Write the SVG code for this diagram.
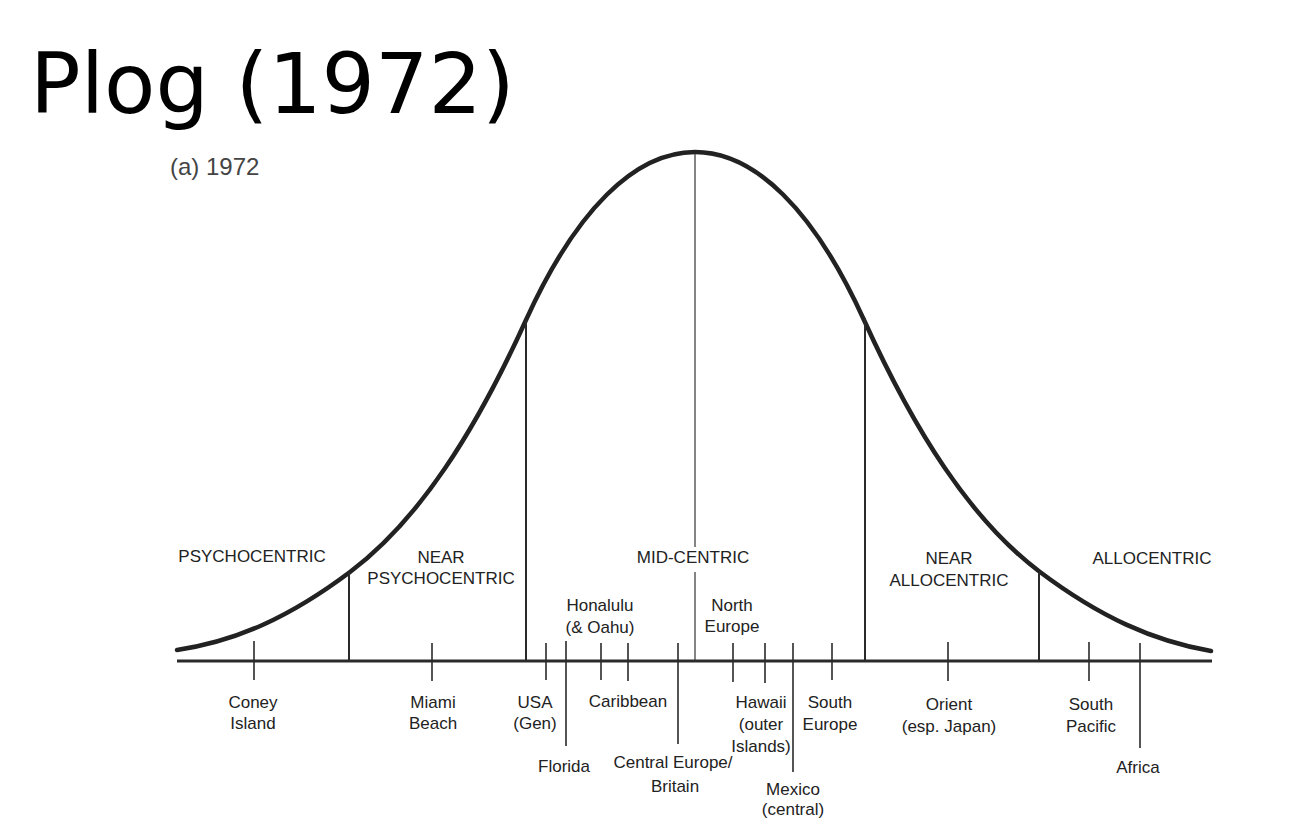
<svg xmlns="http://www.w3.org/2000/svg" width="1292" height="826" viewBox="0 0 1292 826">
<style>
.title{font-family:"DejaVu Sans",sans-serif;font-size:84px;fill:#000}
.sub{font-family:"Liberation Sans",Arial,sans-serif;font-size:24px;fill:#444}
.lbl{font-family:"Liberation Sans",Arial,sans-serif;font-size:17px;fill:#222;text-anchor:middle}
.curve{fill:none;stroke:#222;stroke-width:4.5;stroke-linecap:round}
.div{stroke:#2a2a2a;stroke-width:2;fill:none}
.thin{stroke:#333;stroke-width:1.2;fill:none}
.tick{stroke:#2a2a2a;stroke-width:1.6;fill:none}
.axis{stroke:#2a2a2a;stroke-width:3;fill:none}
</style>
<rect width="1292" height="826" fill="#fff"/>
<text class="title" x="30" y="113">Plog (1972)</text>
<text class="sub" x="170" y="175">(a) 1972</text>

<g id="curve">
<path class="curve" d="M177,650 C237,641 290,617 350,572 C420,519.5 476,430 526,320 C576,210 635,152 695,152 C755,152 814,210 864,320 C914,430 970,519.5 1040,572 C1100,617 1153,641 1211,651"/>
</g>

<g id="connectors">
<line class="axis" x1="177" y1="661" x2="1212" y2="661"/>
<line class="div" x1="349" y1="572" x2="349" y2="661"/>
<line class="div" x1="526" y1="320" x2="526" y2="661"/>
<line class="div" x1="865" y1="318" x2="865" y2="661"/>
<line class="div" x1="1039" y1="572" x2="1039" y2="661"/>
<line class="thin" x1="695" y1="154" x2="695" y2="547"/>
<line class="thin" x1="695" y1="572" x2="695" y2="661"/>
<line class="tick" x1="254" y1="641" x2="254" y2="680"/>
<line class="tick" x1="432" y1="643" x2="432" y2="681"/>
<line class="tick" x1="546" y1="643" x2="546" y2="680"/>
<line class="tick" x1="566" y1="641" x2="566" y2="746"/>
<line class="tick" x1="601" y1="643" x2="601" y2="680"/>
<line class="tick" x1="628" y1="643" x2="628" y2="681"/>
<line class="tick" x1="678" y1="643" x2="678" y2="744"/>
<line class="tick" x1="733" y1="643" x2="733" y2="682"/>
<line class="tick" x1="765" y1="643" x2="765" y2="683"/>
<line class="tick" x1="793" y1="643" x2="793" y2="772"/>
<line class="tick" x1="832" y1="643" x2="832" y2="680"/>
<line class="tick" x1="948" y1="642" x2="948" y2="681"/>
<line class="tick" x1="1089" y1="642" x2="1089" y2="681"/>
<line class="tick" x1="1140" y1="643" x2="1140" y2="748"/>
</g>

<g id="psychocentric"><text class="lbl" x="252" y="562">PSYCHOCENTRIC</text></g>
<g id="near-psychocentric"><text class="lbl" x="441" y="563">NEAR</text><text class="lbl" x="441" y="584">PSYCHOCENTRIC</text></g>
<g id="mid-centric"><text class="lbl" x="693" y="563">MID-CENTRIC</text></g>
<g id="near-allocentric"><text class="lbl" x="949" y="564">NEAR</text><text class="lbl" x="949" y="586">ALLOCENTRIC</text></g>
<g id="allocentric"><text class="lbl" x="1152" y="564">ALLOCENTRIC</text></g>

<g id="honolulu"><text class="lbl" x="600" y="611">Honalulu</text><text class="lbl" x="600" y="633">(&amp; Oahu)</text></g>
<g id="north-europe"><text class="lbl" x="732" y="611">North</text><text class="lbl" x="732" y="632">Europe</text></g>
<g id="coney-island"><text class="lbl" x="253" y="708">Coney</text><text class="lbl" x="253" y="729">Island</text></g>
<g id="miami-beach"><text class="lbl" x="433" y="708">Miami</text><text class="lbl" x="433" y="729">Beach</text></g>
<g id="usa-gen"><text class="lbl" x="535" y="708">USA</text><text class="lbl" x="535" y="729">(Gen)</text></g>
<g id="caribbean"><text class="lbl" x="628" y="707">Caribbean</text></g>
<g id="hawaii"><text class="lbl" x="761" y="708">Hawaii</text><text class="lbl" x="761" y="730">(outer</text><text class="lbl" x="761" y="752">Islands)</text></g>
<g id="south-europe"><text class="lbl" x="830" y="708">South</text><text class="lbl" x="830" y="730">Europe</text></g>
<g id="florida"><text class="lbl" x="564" y="772">Florida</text></g>
<g id="central-europe"><text class="lbl" x="673" y="768">Central Europe/</text><text class="lbl" x="675" y="792">Britain</text></g>
<g id="mexico"><text class="lbl" x="793" y="795">Mexico</text><text class="lbl" x="793" y="815">(central)</text></g>
<g id="orient"><text class="lbl" x="949" y="710">Orient</text><text class="lbl" x="949" y="732">(esp. Japan)</text></g>
<g id="south-pacific"><text class="lbl" x="1091" y="710">South</text><text class="lbl" x="1091" y="732">Pacific</text></g>
<g id="africa"><text class="lbl" x="1138" y="773">Africa</text></g>
</svg>
